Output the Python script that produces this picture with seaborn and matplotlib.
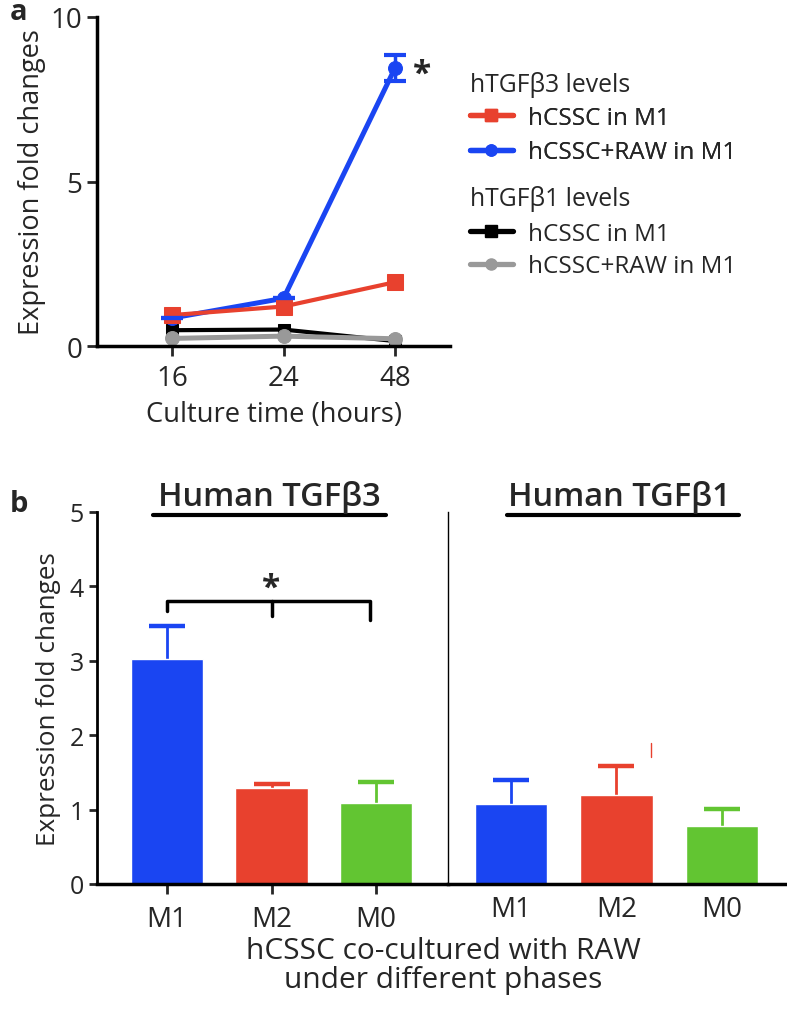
import numpy as np
import pandas as pd
import matplotlib
matplotlib.use("Agg")
import matplotlib.pyplot as plt
import seaborn as sns
from matplotlib.lines import Line2D

sns.set_theme(style="ticks")
plt.rcParams['font.family'] = ['Open Sans', 'DejaVu Sans']

# ---------------- data ----------------
times = ["16", "24", "48"]
tgfb3_hcssc = [0.94, 1.20, 1.94]
tgfb3_raw = [0.85, 1.45, 8.45]
tgfb3_raw_err = [0.0, 0.0, 0.40]
tgfb1_hcssc = [0.48, 0.50, 0.15]
tgfb1_raw = [0.23, 0.30, 0.22]

phases = ["M1", "M2", "M0"]
b3_values = [3.02, 1.29, 1.09]
b3_err = [0.45, 0.06, 0.28]
b1_values = [1.07, 1.20, 0.78]
b1_err = [0.33, 0.38, 0.23]

C_BLUE = "#1a45f2"
C_RED = "#e8412e"
C_GREEN = "#62c532"
C_BLACK = "#000000"
C_GRAY = "#999999"
bar_palette = [C_BLUE, C_RED, C_GREEN]

fig = plt.figure(figsize=(7.87, 10.12), dpi=100)
W, H = 787.0, 1012.0

# ---------------- panel a ----------------
axa = fig.add_axes([97 / W, 1 - 347 / H, 353 / W, 329 / H])
series = [
    (tgfb3_hcssc, C_RED, "s", 12, 3.0),
    (tgfb3_raw, C_BLUE, "o", 10, 3.6),
    (tgfb1_hcssc, C_BLACK, "s", 9, 3.0),
    (tgfb1_raw, C_GRAY, "o", 10, 3.6),
]
draw_order = [2, 3, 1, 0]
xpos = np.arange(len(times))
for i in draw_order:
    vals, col, mk, ms, lw = series[i]
    df = pd.DataFrame({"x": xpos, "y": vals})
    sns.lineplot(data=df, x="x", y="y", ax=axa, color=col, marker=mk,
                 markersize=ms, markeredgecolor=col, linewidth=lw,
                 legend=False)
axa.errorbar(xpos, tgfb3_raw, yerr=tgfb3_raw_err, fmt="none",
             ecolor=C_BLUE, elinewidth=2.5, capsize=8, capthick=3)
axa.text(2.24, tgfb3_raw[2] - 0.2, "*", fontsize=24, fontweight="bold",
         ha="center", va="center")
axa.set_xlim(-0.673, 2.493)
axa.set_ylim(0, 10)
axa.set_xticks(xpos)
axa.set_xticklabels(times)
axa.set_yticks([0, 5, 10])
axa.set_xlabel("Culture time (hours)", fontsize=19.7, labelpad=6)
axa.set_ylabel("Expression fold changes", fontsize=19.5, labelpad=3)
axa.tick_params(labelsize=20, width=2, length=7)
axa.tick_params(axis="x", pad=6)
for s in ["top", "right"]:
    axa.spines[s].set_visible(False)
for s in ["left", "bottom"]:
    axa.spines[s].set_linewidth(2.5)
    axa.spines[s].set_color("black")


def handle(col, mk, ms):
    return Line2D([], [], color=col, marker=mk, markersize=ms, linewidth=3.8,
                  markeredgecolor=col)


leg_kw = dict(frameon=False, fontsize=17.5, handlelength=1.75,
              handletextpad=0.62, borderpad=0, borderaxespad=0,
              loc="center left")
leg1 = fig.legend([handle(C_RED, "s", 9), handle(C_BLUE, "o", 8)],
                  ["hCSSC in M1", "hCSSC+RAW in M1"],
                  bbox_to_anchor=(470 / W, 1 - 136 / H), labelspacing=0.42,
                  **leg_kw)
fig.add_artist(leg1)
leg2 = fig.legend([handle(C_BLACK, "s", 9), handle(C_GRAY, "o", 8)],
                  ["hCSSC in M1", "hCSSC+RAW in M1"],
                  bbox_to_anchor=(470 / W, 1 - 251 / H), labelspacing=0.34,
                  **leg_kw)
fig.text(470 / W, 1 - 85 / H, "hTGF\u03b23 levels", fontsize=17.8,
         va="center", ha="left")
fig.text(470 / W, 1 - 199 / H, "hTGF\u03b21 levels", fontsize=17.8,
         va="center", ha="left")

# ---------------- panel b ----------------
axb1 = fig.add_axes([97 / W, 1 - 885 / H, 351 / W, 372 / H])
axb2 = fig.add_axes([448 / W, 1 - 885 / H, 339 / W, 372 / H], sharey=axb1)

for ax, vals, errs in [(axb1, b3_values, b3_err), (axb2, b1_values, b1_err)]:
    df = pd.DataFrame({"phase": phases, "value": vals})
    sns.barplot(data=df, x="phase", y="value", hue="phase", palette=bar_palette,
                order=phases, hue_order=phases, ax=ax, width=0.69,
                saturation=1, legend=False)
    bx = np.arange(len(phases))
    for k in range(len(phases)):
        _, caps, _ = ax.errorbar([bx[k]], [vals[k]], yerr=[[0], [errs[k]]],
                                 fmt="none", ecolor=bar_palette[k],
                                 elinewidth=2, capsize=13, capthick=3.2,
                                 zorder=0.5)
        caps[0].set_visible(False)
    ax.set_xlabel("")
    ax.set_ylabel("")
    for s in ["top", "right"]:
        ax.spines[s].set_visible(False)
    ax.spines["bottom"].set_linewidth(2.5)
    ax.spines["bottom"].set_color("black")
    ax.tick_params(axis="x", labelsize=20, width=2, length=7, pad=8)

axb1.set_xlim(-0.67, 2.689)
axb2.set_xlim(-0.597, 2.616)
axb1.set_ylim(0, 5)
axb1.set_yticks([0, 1, 2, 3, 4, 5])
axb1.spines["left"].set_linewidth(2)
axb1.spines["left"].set_color("black")
axb1.tick_params(axis="y", labelsize=18, width=2, length=6)
axb1.set_ylabel("Expression fold changes", fontsize=18.8, labelpad=6)
axb2.spines["left"].set_linewidth(1)
axb2.spines["left"].set_color("black")
axb2.tick_params(axis="y", left=False, labelleft=False)
axb2.tick_params(axis="x", length=0)

# group headers with underlines
axb1.plot([-0.134, 2.096], [4.96, 4.96], color="black", lw=3, clip_on=False)
axb1.text(0.98, 5.21, "Human TGF\u03b23", fontsize=23.5, fontweight="semibold",
          ha="center", va="center")
axb2.plot([-0.04, 2.16], [4.96, 4.96], color="black", lw=3, clip_on=False)
axb2.text(1.03, 5.21, "Human TGF\u03b21", fontsize=23.5, fontweight="semibold",
          ha="center", va="center")

# significance bracket
axb1.plot([0, 0, 1.94, 1.94], [3.67, 3.80, 3.80, 3.55], color="black", lw=2.5)
axb1.plot([1, 1], [3.80, 3.60], color="black", lw=2.5)
axb1.text(1, 3.98, "*", fontsize=24, fontweight="bold", ha="center",
          va="center")

# small stray red mark
axb2.plot([1.33, 1.33], [1.71, 1.90], color=C_RED, lw=1)

fig.text(443 / W, 1 - 966 / H, "hCSSC co-cultured with RAW\nunder different phases",
         ha="center", va="center", fontsize=21.5, linespacing=1.0)

fig.text(0.012, 1 - 13 / H, "a", fontsize=21, fontweight="bold", va="center")
fig.text(0.012, 1 - 505 / H, "b", fontsize=21, fontweight="bold", va="center")

fig.savefig("out.png", dpi=100)
